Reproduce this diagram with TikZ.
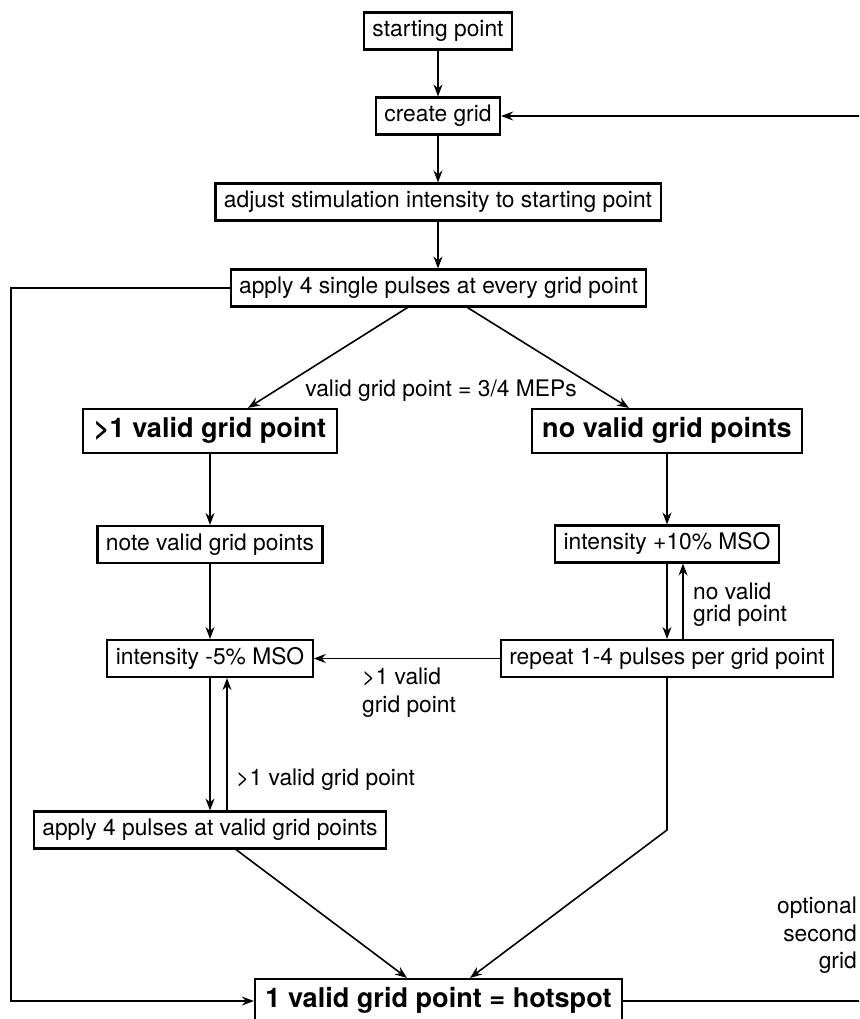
\documentclass[tikz,border=0pt]{standalone}
\usepackage{fontspec}
\setmainfont{TeX Gyre Heros}
\usetikzlibrary{arrows.meta}

\begin{document}
\begin{tikzpicture}[x=1pt,y=-1pt,>={Stealth[length=12pt,width=9pt,inset=4pt]},
    stage/.style={draw,line width=2.1pt,font=\fontsize{22.8}{27.5}\selectfont,inner xsep=8.5pt,inner ysep=0pt,minimum height=37pt,text height=16.4pt,text depth=4.7pt},
    verdict/.style={draw,line width=2.1pt,font=\fontsize{27.1}{32}\selectfont\bfseries,inner xsep=10.5pt,inner ysep=0pt,minimum height=44pt,text height=19.5pt,text depth=5.6pt},
    lbl/.style={font=\fontsize{22.8}{27.5}\selectfont,inner sep=0pt},
    flow/.style={line width=1.6pt}]
  \clip (0,0) rectangle (859,1019);
  % main column
  \node[stage] (start) at (438,31) {starting point};
  \node[stage] (grid) at (438,116) {create grid};
  \node[stage] (adjust) at (438,202) {adjust stimulation intensity to starting point};
  \node[stage] (apply) at (438.5,288) {apply 4 single pulses at every grid point};
  \node[verdict] (some) at (210,431) {>1 valid grid point};
  \node[verdict] (none) at (667,431) {no valid grid points};
  \node[stage] (mark) at (210,544.5) {note valid grid points};
  \node[stage] (minus) at (210,658.5) {intensity -5\% MSO};
  \node[stage] (plus) at (667,544) {intensity +10\% MSO};
  \node[stage] (repeat) at (667,658.5) {repeat 1-4 pulses per grid point};
  \node[stage] (retest) at (210,830) {apply 4 pulses at valid grid points};
  \node[verdict] (hot) at (438.5,1001) {1 valid grid point = hotspot};
  % labels
  \node[lbl] (rule) at (441,391) {valid grid point = 3/4 MEPs};
  \node[lbl,anchor=north west,align=left,font=\fontsize{22.8}{22}\selectfont] (retry) at (693,583) {no valid\\grid point};
  \node[lbl,anchor=north west,align=left] (jump) at (362,668) {>1 valid\\grid point};
  \node[lbl,anchor=west] (loop) at (236,780) {>1 valid grid point};
  \node[lbl,anchor=north east,align=right] (second) at (857,897) {optional\\second\\grid};
  % free ends
  \coordinate (rim) at (866,1001);
  \coordinate (lft) at (11,1001);
  \coordinate (bend) at (667,830);
  % connectors
  \draw[flow,->] (start) -- (grid);
  \draw[flow,->] (grid) -- (adjust);
  \draw[flow,->] (adjust) -- (adjust |- apply.north);
  \draw[flow,->] ([xshift=-31pt]apply.south) -- ([xshift=38pt]some.north);
  \draw[flow,->] ([xshift=29pt]apply.south) -- ([xshift=-38pt]none.north);
  \draw[flow,->] (some) -- (mark);
  \draw[flow,->] (mark) -- (minus);
  \draw[flow,->] (none) -- (plus);
  \draw[flow,->] (plus) -- (repeat);
  \draw[flow,->] ([xshift=16pt]repeat.north) -- ([xshift=16pt]repeat.north |- plus.south);
  \draw[flow,->] (repeat) -- (minus);
  \draw[flow,->] (minus) -- (retest);
  \draw[flow,->] ([xshift=17pt]retest.north) -- ([xshift=17pt]retest.north |- minus.south);
  \draw[flow,->] ([xshift=26pt]retest.south) -- ([xshift=-31.5pt]hot.north);
  \draw[flow,->] (repeat.south) -- (bend) -- ([xshift=31.5pt]hot.north);
  \draw[flow,->] (apply.west) -| (lft) -- (hot.west);
  \draw[flow,->] (hot.east) -- (rim) |- (grid.east);
\end{tikzpicture}
\end{document}
